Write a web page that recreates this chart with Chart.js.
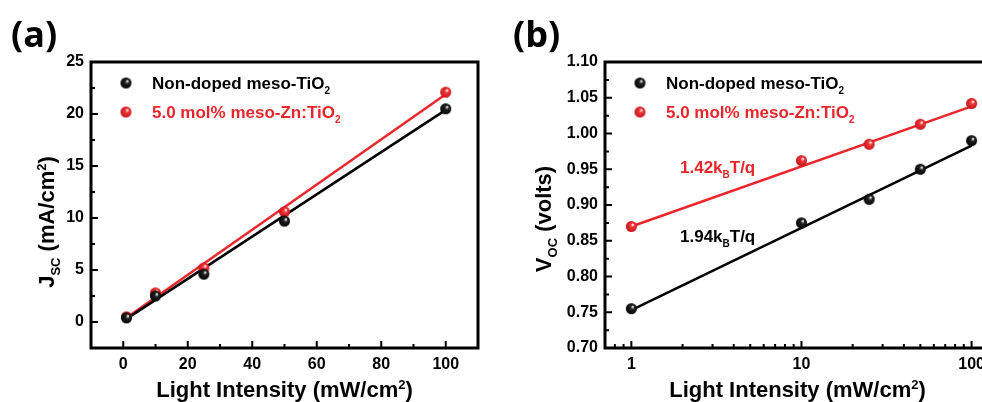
<!DOCTYPE html>
<html>
<head>
<meta charset="utf-8">
<script src="https://cdn.jsdelivr.net/npm/chart.js@4.4.0/dist/chart.umd.min.js"></script>
<style>
  html, body { margin: 0; padding: 0; background: #fff; overflow: hidden; }
  #wrap { position: relative; width: 982px; height: 402px; overflow: hidden; }
  canvas { position: absolute; top: 0; }
  #cA { left: 0; }
  #cB { left: 490px; }
</style>
</head>
<body>
<div id="wrap">
  <canvas id="cA" width="490" height="402"></canvas>
  <canvas id="cB" width="520" height="402"></canvas>
</div>
<script>
// light intensities (mW/cm2)
const intensity = [1, 10, 25, 50, 100];
const fitX = [1, 100];

// (a) Jsc
const jscUndoped = [0.4, 2.5, 4.6, 9.7, 20.5];
const jscZn = [0.5, 2.8, 5.2, 10.6, 22.1];
const jscFitUndoped = [0.3, 20.4];
const jscFitZn = [0.4, 21.9];

// (b) Voc
const vocUndoped = [0.755, 0.875, 0.908, 0.950, 0.990];
const vocZn = [0.870, 0.962, 0.985, 1.013, 1.042];
const vocFitUndoped = [0.753, 0.983];
const vocFitZn = [0.870, 1.038];

// ticks
const xTicksA = [0, 20, 40, 60, 80, 100];
const xMinorA = [10, 30, 50, 70, 90];
const yTicksA = [0, 5, 10, 15, 20, 25];
const yMinorA = [2.5, 7.5, 12.5, 17.5, 22.5];
const xTicksB = [1, 10, 100];
const xMinorB = [0.8, 0.9, 2, 3, 4, 5, 6, 7, 8, 9, 20, 30, 40, 50, 60, 70, 80, 90];
const yTicksB = [0.70, 0.75, 0.80, 0.85, 0.90, 0.95, 1.00, 1.05, 1.10];
const yMinorB = [0.725, 0.775, 0.825, 0.875, 0.925, 0.975, 1.025, 1.075];

const RED = '#e8262b';
const FONT = '"Liberation Sans", Arial, sans-serif';

function ball(color, dark, r) {
    const c = document.createElement('canvas');
    c.width = c.height = 2 * r + 2;
    const g = c.getContext('2d');
    const grad = g.createRadialGradient(r + 1 + r * 0.3, r + 1 - r * 0.35, r * 0.05, r + 1, r + 1, r + 0.5);
    grad.addColorStop(0, '#ffffff');
    grad.addColorStop(0.3, color);
    grad.addColorStop(1, dark);
    g.fillStyle = grad;
    g.beginPath();
    g.arc(r + 1, r + 1, r, 0, Math.PI * 2);
    g.fill();
    return c;
}
const blackBall = ball('#222', '#000', 5.5);
const redBall = ball('#f0373a', '#c01015', 5.5);

// text with sub/superscripts: parts = [[text, 0 normal | 1 sub | 2 sup], ...]
function rich(ctx, parts, x, y, size, color, align) {
    ctx.save();
    ctx.fillStyle = color;
    ctx.textAlign = 'left';
    ctx.textBaseline = 'alphabetic';
    const fonts = parts.map(p => 'bold ' + (p[1] ? Math.round(size * 0.6) : size) + 'px ' + FONT);
    let w = 0;
    parts.forEach((p, i) => { ctx.font = fonts[i]; w += ctx.measureText(p[0]).width; });
    let cx = align === 'center' ? x - w / 2 : x;
    parts.forEach((p, i) => {
        ctx.font = fonts[i];
        const dy = p[1] === 1 ? size * 0.28 : (p[1] === 2 ? -size * 0.38 : 0);
        ctx.fillText(p[0], cx, y + dy);
        cx += ctx.measureText(p[0]).width;
    });
    ctx.restore();
}

function framePlugin(cfg) {
    return {
        id: 'frame',
        afterDatasetsDraw(chart) {
            const ctx = chart.ctx;
            const a = chart.chartArea;
            const xs = chart.scales.x, ys = chart.scales.y;
            ctx.save();
            ctx.strokeStyle = '#000';
            ctx.lineWidth = 2;
            ctx.beginPath();
            cfg.xMajor.forEach(v => { const p = xs.getPixelForValue(v); ctx.moveTo(p, a.bottom); ctx.lineTo(p, a.bottom - 7); });
            cfg.xMinor.forEach(v => { const p = xs.getPixelForValue(v); ctx.moveTo(p, a.bottom); ctx.lineTo(p, a.bottom - 4); });
            cfg.yMajor.forEach(v => { const p = ys.getPixelForValue(v); ctx.moveTo(a.left, p); ctx.lineTo(a.left + 7, p); });
            cfg.yMinor.forEach(v => { const p = ys.getPixelForValue(v); ctx.moveTo(a.left, p); ctx.lineTo(a.left + 4, p); });
            ctx.stroke();
            ctx.lineWidth = 3;
            ctx.strokeRect(a.left, a.top, a.right - a.left, a.bottom - a.top);
            ctx.restore();

            // panel label
            ctx.save();
            ctx.fillStyle = '#000';
            ctx.font = 'bold 36px "Open Sans", sans-serif';
            ctx.textBaseline = 'alphabetic';
            ctx.fillText(cfg.panel, cfg.panelX, 47);
            ctx.restore();

            // axis titles
            rich(ctx, [['Light Intensity (mW/cm', 0], ['2', 2], [')', 0]], (a.left + a.right) / 2 + cfg.xTitleShift, 397, 22, '#000', 'center');
            ctx.save();
            ctx.translate(cfg.yTitleX, cfg.yTitleY);
            ctx.rotate(-Math.PI / 2);
            rich(ctx, cfg.yTitle, 0, 0, 22, '#000', 'center');
            ctx.restore();

            // legend
            cfg.legend.forEach((l, i) => {
                const y = 83 + i * 29;
                ctx.drawImage(l.img, cfg.legX - l.img.width / 2, y - l.img.height / 2);
                rich(ctx, l.text, cfg.legX + 26, y + 6, 17, l.color, 'left');
            });

            // slope annotations
            (cfg.notes || []).forEach(n => {
                rich(ctx, n.text, n.x, n.y, 17, n.color, 'left');
            });
        }
    };
}

function setTicks(list) {
    return function (scale) { scale.ticks = list.map(v => ({ value: v })); };
}

function pointSet(label, ys, img) {
    return {
        label: label,
        data: intensity.map((x, i) => ({ x: x, y: ys[i] })),
        showLine: false,
        pointStyle: img,
        pointRadius: 5,
        order: 1
    };
}
function fitSet(label, ys, color) {
    return {
        label: label,
        data: fitX.map((x, i) => ({ x: x, y: ys[i] })),
        showLine: true,
        borderColor: color,
        borderWidth: 2.5,
        pointRadius: 0,
        fill: false,
        order: 2
    };
}

const tickFont = { family: FONT, size: 16, weight: 'bold' };

var chartA = new Chart(document.getElementById('cA'), {
    type: 'scatter',
    data: {
        datasets: [
            pointSet('Non-doped meso-TiO2', jscUndoped, blackBall),
            pointSet('5.0 mol% meso-Zn:TiO2', jscZn, redBall),
            fitSet('fit non-doped', jscFitUndoped, '#000'),
            fitSet('fit Zn', jscFitZn, RED)
        ]
    },
    options: {
        responsive: false,
        animation: false,
        devicePixelRatio: 1,
        layout: { padding: { top: 62, right: 12, left: 0, bottom: 0 } },
        plugins: { legend: { display: false }, tooltip: { enabled: false } },
        scales: {
            x: {
                type: 'linear', min: -10, max: 110,
                grid: { display: false, drawTicks: false },
                border: { display: false },
                afterBuildTicks: setTicks(xTicksA),
                afterFit: function (s) { s.height = 54; },
                ticks: { font: tickFont, color: '#000', padding: 7, maxRotation: 0 }
            },
            y: {
                type: 'linear', min: -2.5, max: 25,
                grid: { display: false, drawTicks: false },
                border: { display: false },
                afterBuildTicks: setTicks(yTicksA),
                afterFit: function (s) { s.width = 91; },
                ticks: { font: tickFont, color: '#000', padding: 7 }
            }
        }
    },
    plugins: [framePlugin({
        panel: '(a)', panelX: 11,
        xMajor: xTicksA, xMinor: xMinorA, yMajor: yTicksA, yMinor: yMinorA,
        xTitleShift: 0,
        yTitle: [['J', 0], ['SC', 1], [' (mA/cm', 0], ['2', 2], [')', 0]],
        yTitleX: 54, yTitleY: 222,
        legX: 126,
        legend: [
            { img: blackBall, color: '#000', text: [['Non-doped meso-TiO', 0], ['2', 1]] },
            { img: redBall, color: RED, text: [['5.0 mol% meso-Zn:TiO', 0], ['2', 1]] }
        ]
    })]
});

var chartB = new Chart(document.getElementById('cB'), {
    type: 'scatter',
    data: {
        datasets: [
            pointSet('Non-doped meso-TiO2', vocUndoped, blackBall),
            pointSet('5.0 mol% meso-Zn:TiO2', vocZn, redBall),
            fitSet('fit non-doped', vocFitUndoped, '#000'),
            fitSet('fit Zn', vocFitZn, RED)
        ]
    },
    options: {
        responsive: false,
        animation: false,
        devicePixelRatio: 1,
        layout: { padding: { top: 62, right: 12, left: 0, bottom: 0 } },
        plugins: { legend: { display: false }, tooltip: { enabled: false } },
        scales: {
            x: {
                type: 'logarithmic', min: 0.7, max: 143,
                grid: { display: false, drawTicks: false },
                border: { display: false },
                afterBuildTicks: setTicks(xTicksB),
                afterFit: function (s) { s.height = 54; },
                ticks: { font: tickFont, color: '#000', padding: 7, maxRotation: 0, autoSkip: false,
                    callback: function (v) { return String(v); } }
            },
            y: {
                type: 'linear', min: 0.7, max: 1.1,
                grid: { display: false, drawTicks: false },
                border: { display: false },
                afterBuildTicks: setTicks(yTicksB),
                afterFit: function (s) { s.width = 115; },
                ticks: { font: tickFont, color: '#000', padding: 7,
                    callback: function (v) { return Number(v).toFixed(2); } }
            }
        }
    },
    plugins: [framePlugin({
        panel: '(b)', panelX: 23,
        xMajor: xTicksB, xMinor: xMinorB, yMajor: yTicksB, yMinor: yMinorB,
        xTitleShift: -4,
        yTitle: [['V', 0], ['OC', 1], [' (volts)', 0]],
        yTitleX: 61, yTitleY: 219,
        legX: 150,
        legend: [
            { img: blackBall, color: '#000', text: [['Non-doped meso-TiO', 0], ['2', 1]] },
            { img: redBall, color: RED, text: [['5.0 mol% meso-Zn:TiO', 0], ['2', 1]] }
        ],
        notes: [
            { x: 190, y: 173, color: RED, text: [['1.42k', 0], ['B', 1], ['T/q', 0]] },
            { x: 190, y: 242, color: '#000', text: [['1.94k', 0], ['B', 1], ['T/q', 0]] }
        ]
    })]
});
</script>
</body>
</html>
